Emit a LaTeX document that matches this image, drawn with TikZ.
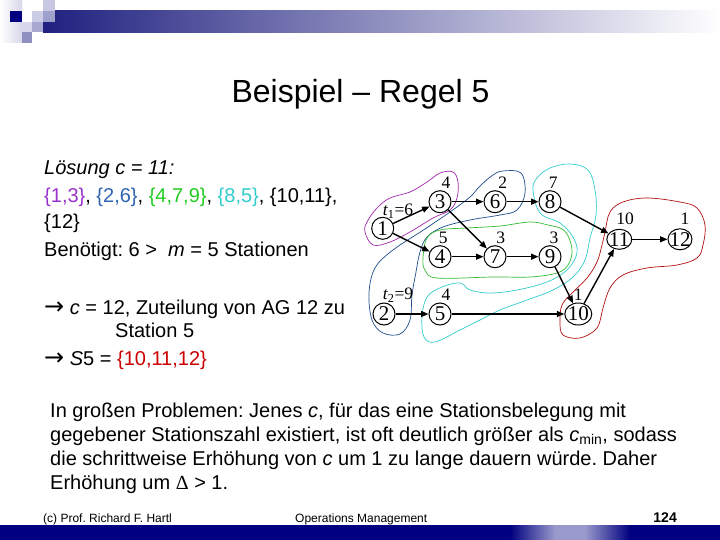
\documentclass[tikz,border=0pt]{standalone}
\usepackage{fontspec}
\setmainfont{Liberation Sans}
\newfontfamily\serifnet{Liberation Serif}
\newfontfamily\arrowfont{DejaVu Sans}
\usetikzlibrary{arrows.meta,shapes.geometric}
\newcommand\netfont{\serifnet\fontsize{21}{21}\selectfont}
\newcommand\lblfont{\serifnet\fontsize{17.5}{17.5}\selectfont}
\newcommand\rarr{{\arrowfont\fontsize{24}{24}\selectfont →}}
\frenchspacing
\definecolor{cpurple}{RGB}{153,51,204}
\definecolor{cblue}{RGB}{46,100,176}
\definecolor{cgreen}{RGB}{34,204,34}
\definecolor{ccyan}{RGB}{51,204,204}
\definecolor{cred}{RGB}{204,0,0}
\definecolor{lpurple}{RGB}{160,40,170}
\definecolor{lblue}{RGB}{30,78,140}
\definecolor{lgreen}{RGB}{51,187,51}
\definecolor{lcyan}{RGB}{51,204,204}
\definecolor{lred}{RGB}{176,16,16}
\definecolor{navy}{RGB}{0,0,128}
\definecolor{hdark}{RGB}{32,32,128}
\definecolor{hmid}{RGB}{150,150,176}
\definecolor{lav}{RGB}{153,153,204}
\definecolor{sqa}{RGB}{215,215,235}
\definecolor{sqb}{RGB}{200,200,226}
\definecolor{sqc}{RGB}{204,204,230}
\definecolor{sqd}{RGB}{160,160,204}
\definecolor{sqe}{RGB}{216,216,236}
\definecolor{sqf}{RGB}{168,168,208}
\definecolor{sqg}{RGB}{144,144,192}
\begin{document}
\begin{tikzpicture}[x=1pt,y=-1pt,
  nd/.style={draw, circle, line width=1pt, minimum size=22pt, inner sep=0pt, fill=white, font=\netfont},
  ndw/.style={draw, ellipse, line width=1pt, minimum width=27pt, minimum height=22pt, inner sep=0pt, fill=white, font=\netfont},
  lbl/.style={font=\lblfont, inner sep=0pt},
  arr/.style={line width=1.4pt, -{Triangle[length=7.5pt,width=6pt]}},
  blob/.style={line width=0.7pt},
  txt/.style={anchor=base west, inner sep=0pt, font=\fontsize{20}{24}\selectfont},
  ptxt/.style={anchor=base west, inner sep=0pt, font=\fontsize{20}{24}\selectfont},
  foot/.style={anchor=base west, inner sep=0pt, font=\fontsize{12}{14}\selectfont}]
\useasboundingbox (0,0) rectangle (720,540);
\fill[white] (0,0) rectangle (720,540);
% header
\shade[left color=white, right color=sqa] (0,0) rectangle (22,43);
\shade[left color=hdark, middle color=hmid, right color=white] (43,11) rectangle (720,33);
\fill[navy] (10,11) rectangle (22,22);
\fill[sqb] (43,0) rectangle (55,11);
\fill[sqc] (32,11) rectangle (43,22);
\fill[sqd] (43,11) rectangle (55,22);
\fill[sqe] (22,22) rectangle (32,32);
\fill[sqf] (32,22) rectangle (43,32);
\fill[sqg] (22,32) rectangle (32,43);
% footer bar
\fill[navy] (0,525) rectangle (720,540);
\shade[left color=navy, right color=lav] (510,525) rectangle (555,540);
\fill[lav] (555,525) rectangle (585,540);
\shade[left color=lav, right color=navy] (585,525) rectangle (630,540);
% title
\node[anchor=base, inner sep=0pt, font=\fontsize{32}{36}\selectfont] (title) at (360.5,103) {Beispiel – Regel 5};
% left text
\node[txt] (t1) at (44,175) {\textit{Lösung c = 11:}};
\node[txt] (t2) at (44,203) {{\color{cpurple}\{1,3\}}, {\color{cblue}\{2,6\}}, {\color{cgreen}\{4,7,9\}}, {\color{ccyan}\{8,5\}}, \{10,11\},};
\node[txt] (t3) at (44,229) {\{12\}};
\node[txt] (t4) at (44,256) {Benötigt: 6 >\ \ \textit{m} = 5 Stationen};
\node[txt] (t5) at (44,314) {\rarr{} \textit{c} = 12, Zuteilung von AG 12 zu};
\node[txt] (t6) at (115,337) {Station 5};
\node[txt] (t7) at (44,365) {\rarr{} \textit{S}5 = {\color{cred}\{10,11,12\}}};
% paragraph
\node[ptxt] (p1) at (50,417) {In großen Problemen: Jenes \textit{c}, für das eine Stationsbelegung mit};
\node[ptxt] (p2) at (50,441) {gegebener Stationszahl existiert, ist oft deutlich größer als \textit{c}\textsubscript{min}, sodass};
\node[ptxt] (p3) at (50,465) {die schrittweise Erhöhung von \textit{c} um 1 zu lange dauern würde. Daher};
\node[ptxt] (p4) at (50,489) {Erhöhung um {\serifnet Δ} > 1.};
% footer text
\node[foot] (f1) at (43,522) {(c) Prof. Richard F. Hartl};
\node[foot] (f2) at (295,522) {Operations Management};
\node[anchor=base east, inner sep=0pt, font=\fontsize{14}{16}\selectfont\bfseries] (f3) at (677,522) {124};
% blobs
\draw[blob, lpurple] plot[smooth cycle, tension=0.6] coordinates {(365,232) (367,222) (377,208) (390,198) (410,192) (427,182) (440,173) (453,172) (458,182) (457,198) (450,210) (433,218) (410,232) (390,242) (373,245)};
\draw[blob, lblue] plot[smooth cycle, tension=0.6] coordinates {(470,197) (480,186) (493,175) (503,171) (521,173) (525,193) (517,210) (500,215) (470,220) (443,227) (427,237) (420,252) (416,272) (412,295) (410,320) (400,334) (383,333) (372,320) (369,293) (375,268) (393,250) (425,229) (450,212)};
\draw[blob, lgreen] plot[smooth cycle, tension=0.6] coordinates {(423,258) (427,238) (440,230) (467,228) (500,226) (530,222) (548,225) (562,229) (569,238) (572,252) (568,265) (557,273) (530,277) (493,277) (437,278) (425,270)};
\draw[blob, lcyan] plot[smooth cycle, tension=0.6] coordinates {(533,190) (540,213) (560,223) (573,237) (577,253) (567,270) (547,282) (517,290) (490,293) (470,290) (460,283) (442,287) (427,297) (422,317) (424,337) (435,342) (460,330) (480,320) (500,310) (527,300) (553,290) (573,277) (585,260) (590,238) (596,215) (595,190) (588,170) (570,164) (550,168) (537,178)};
\draw[blob, lred] plot[smooth cycle, tension=0.6] coordinates {(605,232) (610,212) (623,202) (647,198) (680,202) (697,208) (705,225) (703,245) (697,258) (677,265) (647,268) (623,275) (610,288) (603,308) (597,328) (580,338) (563,335) (560,322) (562,305) (573,292) (587,278) (597,262) (602,245)};
% network nodes
\node[nd] (n1) at (382.7,228.3) {1};
\node[nd] (n3) at (440,201.7) {3};
\node[nd] (n6) at (495,201.7) {6};
\node[nd] (n8) at (550,201.7) {8};
\node[nd] (n4) at (440,256.7) {4};
\node[nd] (n7) at (495,256.7) {7};
\node[nd] (n9) at (550,256.7) {9};
\node[nd] (n2) at (384,314) {2};
\node[nd] (n5) at (440,314) {5};
\node[ndw] (n10) at (578.3,314) {\makebox[15pt]{10}};
\node[ndw, minimum width=25pt, minimum height=20pt] (n11) at (619.3,239.3) {\makebox[15pt]{11}};
\node[ndw, minimum width=24pt, minimum height=21pt] (n12) at (680,239.3) {\makebox[15pt]{12}};
% labels
\node[lbl] (w3) at (446,183) {4};
\node[lbl] (w6) at (502.7,183) {2};
\node[lbl] (w8) at (553.3,183) {7};
\node[lbl] (w4) at (443.3,237.5) {5};
\node[lbl] (w7) at (500.7,237.5) {3};
\node[lbl] (w9) at (554,237.5) {3};
\node[lbl] (w5) at (446,295) {4};
\node[lbl] (w10) at (578.3,295) {1};
\node[lbl] (w11) at (625,219) {10};
\node[lbl] (w12) at (685,219) {1};
\node[lbl] (tt1) at (398,211) {\textit{t}\textsubscript{1}=6};
\node[lbl] (tt2) at (398,295) {\textit{t}\textsubscript{2}=9};
% arrows
\draw[arr] (n1) -- (n3);
\draw[arr] (n1) -- (n4);
\draw[arr] (n3) -- (n6);
\draw[arr] (n3) -- (n7);
\draw[arr] (n6) -- (n8);
\draw[arr] (n4) -- (n7);
\draw[arr] (n7) -- (n9);
\draw[arr] (n8) -- (n11);
\draw[arr] (n9) -- (n10);
\draw[arr] (n2) -- (n5);
\draw[arr] (n5) -- (n10);
\draw[arr] (n10) -- (n11);
\draw[arr, line width=1.1pt] (n11) -- (n12);
\end{tikzpicture}
\end{document}
